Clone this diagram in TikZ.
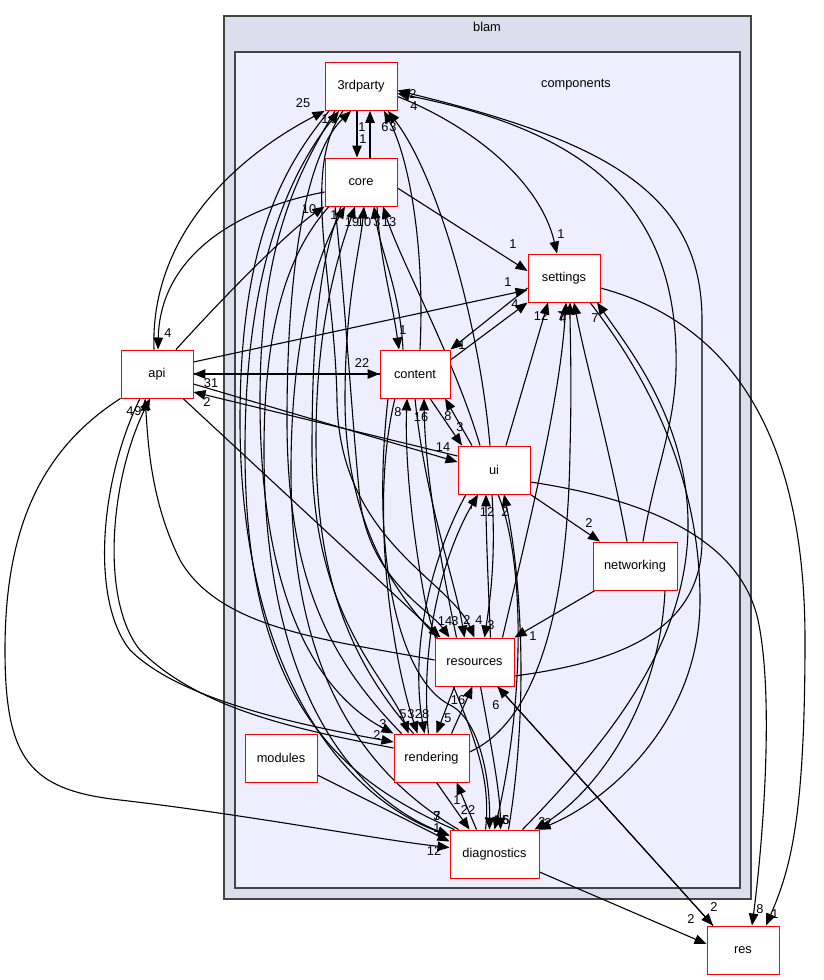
\documentclass[tikz,border=0pt]{standalone}
\usepackage{fontspec}
\setmainfont{Liberation Sans}
\usetikzlibrary{arrows.meta}
\definecolor{blamfill}{HTML}{DDDDEE}
\definecolor{compfill}{HTML}{EEEEFF}
\definecolor{clusterline}{HTML}{444444}
\pgfdeclarelayer{bglayer}
\pgfdeclarelayer{edgelayer}
\pgfsetlayers{bglayer,edgelayer,main}
\begin{document}
\begin{tikzpicture}[x=1pt,y=-1pt,
  dnode/.style={draw=red, fill=white, line width=0.95pt, minimum width=72pt, minimum height=48pt, inner sep=0pt, font=\fontsize{12.8}{15}\selectfont},
  dep/.style={draw=black, line width=1.1pt, -{Triangle[length=12pt,width=9.5pt]}},
  lab/.style={inner sep=0pt, font=\fontsize{12.8}{15}\selectfont},
  cluster/.style={draw=clusterline, line width=1.4pt}
]
\useasboundingbox (0,0) rectangle (824,980);
\begin{pgfonlayer}{bglayer}
\fill[white] (0,0) rectangle (824,980);
\draw[cluster, fill=blamfill] (224,16) rectangle (751,899);
\draw[cluster, fill=compfill] (235,52) rectangle (740,888);
\end{pgfonlayer}
\node[lab] (blamlbl) at (487,27) {blam};
\node[lab] (complbl) at (576,85) {components};

\node[dnode] (thirdparty) at (361,86.5) {3rdparty};
\node[dnode] (core) at (361,182) {core};
\node[dnode] (settings) at (564,278) {settings};
\node[dnode] (api) at (157,374) {api};
\node[dnode, minimum width=70pt] (content) at (415,374) {content};
\node[dnode] (ui) at (494,470) {ui};
\node[dnode, minimum width=84pt] (networking) at (635,566) {networking};
\node[dnode, minimum width=79pt] (resources) at (474.5,662) {resources};
\node[dnode] (modules) at (281,758) {modules};
\node[dnode, minimum width=75pt] (rendering) at (431.5,758) {rendering};
\node[dnode, minimum width=89pt] (diagnostics) at (494.5,854) {diagnostics};
\node[dnode] (res) at (743,950) {res};

\begin{pgfonlayer}{edgelayer}
\draw[dep] ([xshift=-3pt]api.north) .. controls (150,240) and (230,160) .. (thirdparty.south west);
\draw[dep] ([yshift=-10pt]core.west) .. controls (230,210) and (160,260) .. ([xshift=1pt]api.north);
\draw[dep] ([xshift=19pt]api.north) .. controls (230,290) and (290,230) .. (core.south west);
\draw[dep] ([xshift=-4pt]thirdparty.south) -- ([xshift=-4pt]core.north);
\draw[dep] ([xshift=9pt]core.north) -- ([xshift=9pt]thirdparty.south);
\draw[dep] ([yshift=-6pt]core.east) -- ([yshift=7pt]settings.west);
\draw[dep] ([yshift=-10pt]thirdparty.east) .. controls (470,125) and (540,180) .. ([xshift=-7pt]settings.north);
\draw[dep] ([xshift=8pt]networking.north) .. controls (655,470) and (674,430) .. (676,370) .. controls (680,200) and (580,130) .. ([yshift=-7pt]thirdparty.east);
\draw[dep] ([yshift=-14pt]resources.east) .. controls (620,662) and (702,630) .. (702,540) -- (702,320) .. controls (702,190) and (600,140) .. ([yshift=-4pt]thirdparty.east);
\draw[dep] ([xshift=5pt]content.north) .. controls (425,250) and (410,160) .. ([xshift=23pt]thirdparty.south);
\draw[dep] ([xshift=-4pt]ui.north) .. controls (480,330) and (440,180) .. ([xshift=27pt]thirdparty.south);
\draw[dep] ([xshift=-40pt]diagnostics.north) .. controls (340,780) and (245,700) .. (245,450) .. controls (245,250) and (300,160) .. ([xshift=-22pt]thirdparty.south);
\draw[dep] ([xshift=-30pt]rendering.north) .. controls (330,660) and (287,580) .. (287,420) .. controls (287,250) and (310,150) .. ([xshift=-10pt]thirdparty.south);
\draw[dep] ([xshift=-36pt]diagnostics.north) .. controls (340,760) and (291,640) .. (291,470) .. controls (291,330) and (320,250) .. ([xshift=-16pt]core.south);
\draw[dep] ([xshift=-18pt]rendering.north) .. controls (340,650) and (316,560) .. (316,440) .. controls (316,320) and (340,250) .. ([xshift=-6pt]core.south);
\draw[dep] ([xshift=-37pt]resources.north) .. controls (380,580) and (345,500) .. (345,400) .. controls (345,300) and (360,250) .. ([xshift=3pt]core.south);
\draw[dep] ([xshift=-12pt]content.north) .. controls (400,290) and (380,250) .. ([xshift=13pt]core.south);
\draw[dep] ([xshift=-14pt]ui.north) .. controls (455,360) and (400,260) .. ([xshift=22pt]core.south);
\draw[dep] ([xshift=16pt]core.south) .. controls (380,260) and (392,300) .. ([xshift=-16pt]content.north);
\draw[dep] ([yshift=12pt]api.east) -- ([yshift=-12pt]settings.west);
\draw[dep] (api.east) -- (content.west);
\draw[dep] (content.west) -- (api.east);
\draw[dep] ([yshift=-10pt]api.east) -- ([yshift=8pt]ui.west);
\draw[dep] ([yshift=14pt]ui.west) -- ([yshift=-18pt]api.east);
\draw[dep] ([xshift=26pt]api.south) -- ([xshift=-34pt]resources.north);
\draw[dep] (api.south west) .. controls (40,450) and (5,530) .. (5,650) .. controls (5,760) and (30,790) .. (120,800) .. controls (250,815) and (380,840) .. ([yshift=-18pt]diagnostics.north west);
\draw[dep] ([yshift=2pt]resources.west) .. controls (330,640) and (220,630) .. (180,560) .. controls (150,500) and (148,440) .. ([xshift=-12pt]api.south);
\draw[dep] ([yshift=10pt]rendering.west) .. controls (300,730) and (200,710) .. (140,650) .. controls (100,600) and (110,480) .. ([xshift=-7pt]api.south);
\draw[dep] ([xshift=-17pt]api.south) .. controls (100,480) and (90,600) .. (130,650) .. controls (180,700) and (300,725) .. ([yshift=16pt]rendering.west);
\draw[dep] ([xshift=-26pt]thirdparty.south) .. controls (300,170) and (260,240) .. (260,400) .. controls (260,620) and (330,700) .. (rendering.north west);
\draw[dep] ([xshift=-20pt]core.south) .. controls (320,260) and (312,330) .. (312,450) .. controls (312,620) and (390,680) .. ([xshift=-23pt]rendering.north);
\draw[dep] ([xshift=-20pt]content.south) .. controls (370,500) and (390,650) .. ([xshift=-14pt]rendering.north);
\draw[dep] ([xshift=-28pt]ui.south) .. controls (430,560) and (410,650) .. ([xshift=-7pt]rendering.north);
\draw[dep] ([xshift=-20pt]resources.south) -- ([xshift=5pt]rendering.north);
\draw[dep] ([xshift=20pt]rendering.north) -- ([xshift=-2pt]resources.south);
\draw[dep] ([xshift=5pt]rendering.south) -- ([xshift=-25pt]diagnostics.north);
\draw[dep] ([xshift=-18pt]diagnostics.north) -- ([xshift=25pt]rendering.south);
\draw[dep] ([yshift=-17pt]modules.east) -- ([yshift=-12pt]diagnostics.north west);
\draw[dep] ([xshift=-32pt]thirdparty.south) .. controls (290,160) and (240,230) .. (240,420) .. controls (240,680) and (350,800) .. ([yshift=-6pt]diagnostics.north west);
\draw[dep] ([xshift=-32pt]core.south) .. controls (290,250) and (264,320) .. (264,450) .. controls (264,700) and (360,800) .. ([yshift=-6pt]diagnostics.north west);
\draw[dep] ([xshift=-27pt]content.south) .. controls (370,560) and (400,680) .. (450,705) .. controls (480,720) and (490,780) .. ([xshift=-5pt]diagnostics.north);
\draw[dep] ([xshift=4pt]ui.south) .. controls (525,560) and (525,700) .. (diagnostics.north);
\draw[dep] ([xshift=6pt]resources.south) .. controls (490,740) and (500,790) .. ([xshift=6pt]diagnostics.north);
\draw[dep] ([xshift=26pt]settings.south) .. controls (650,380) and (700,480) .. (700,600) .. controls (700,720) and (610,800) .. ([xshift=44pt]diagnostics.north);
\draw[dep] ([xshift=30pt]networking.south) .. controls (660,700) and (600,790) .. ([xshift=40pt]diagnostics.north);
\draw[dep] ([xshift=28pt]diagnostics.north) .. controls (610,740) and (690,640) .. (688,520) .. controls (686,420) and (630,350) .. ([xshift=33pt]settings.south);
\draw[dep] ([yshift=14pt]content.east) -- (settings.south west);
\draw[dep] ([yshift=-10pt]settings.west) -- (content.north east);
\draw[dep] ([xshift=12pt]ui.north) -- ([xshift=-16pt]settings.south);
\draw[dep] ([xshift=28pt]resources.north) .. controls (530,520) and (560,400) .. ([xshift=2pt]settings.south);
\draw[dep] ([xshift=-8pt]networking.north) .. controls (610,450) and (585,360) .. ([xshift=10pt]settings.south);
\draw[dep] ([yshift=6pt]rendering.east) .. controls (540,720) and (568,600) .. (570,450) .. controls (572,380) and (570,330) .. ([xshift=6pt]settings.south);
\draw[dep] ([yshift=-10pt]settings.east) .. controls (720,320) and (805,420) .. (805,640) .. controls (805,820) and (790,870) .. ([xshift=23pt]res.north);
\draw[dep] ([yshift=-12pt]ui.east) .. controls (650,500) and (740,540) .. (758,620) .. controls (775,700) and (762,850) .. ([xshift=9pt]res.north);
\draw[dep] ([xshift=23pt]resources.south) -- ([xshift=-30pt]res.north);
\draw[dep] ([xshift=-30pt]res.north) -- ([xshift=23pt]resources.south);
\draw[dep] ([yshift=-18pt]diagnostics.east) -- ([yshift=6pt]res.west);
\draw[dep] ([xshift=15pt]content.south) -- ([xshift=-32pt]ui.north);
\draw[dep] ([xshift=-22pt]ui.north) -- ([xshift=30pt]content.south);
\draw[dep] ([xshift=-9pt]diagnostics.north) .. controls (495,750) and (445,690) .. (425,600) .. controls (410,520) and (405,450) .. ([xshift=-8pt]content.south);
\draw[dep] ([xshift=-18pt]resources.north) .. controls (440,560) and (425,470) .. ([xshift=9pt]content.south);
\draw[dep] (content.south) .. controls (425,500) and (455,580) .. ([xshift=-10pt]resources.north);
\draw[dep] (ui.south east) -- ([xshift=-35pt]networking.north);
\draw[dep] ([xshift=-40pt]networking.south) -- (resources.north east);
\draw[dep] ([xshift=16pt]resources.north) .. controls (488,580) and (486,530) .. ([xshift=-8pt]ui.south);
\draw[dep] ([xshift=-3pt]rendering.north) .. controls (420,650) and (440,560) .. ([xshift=-16pt]ui.south);
\draw[dep] ([xshift=14pt]diagnostics.north) .. controls (530,700) and (520,570) .. ([xshift=10pt]ui.south);
\draw[dep] ([xshift=-2pt]ui.south) .. controls (496,560) and (490,600) .. ([xshift=10pt]resources.north);
\draw[dep] ([xshift=-26pt]core.south) .. controls (345,300) and (352,420) .. (360,500) .. controls (370,580) and (430,610) .. ([xshift=-25pt]resources.north);
\draw[dep] ([xshift=-18pt]thirdparty.south) .. controls (300,170) and (335,280) .. (337,400) .. controls (339,540) and (450,580) .. (resources.north);
\end{pgfonlayer}

\node[lab] (l1) at (303,103) {25};
\node[lab] (l2) at (168,333) {4};
\node[lab] (l3) at (309,209) {10};
\node[lab] (l4) at (363,139) {1};
\node[lab] (l5) at (362,127) {1};
\node[lab] (l6) at (513,244) {1};
\node[lab] (l7) at (561,234) {1};
\node[lab] (l8) at (414,106) {4};
\node[lab] (l9) at (413,94) {2};
\node[lab] (l10) at (393,127) {3};
\node[lab] (l11) at (385,127) {6};
\node[lab] (l12) at (325,119) {1};
\node[lab] (l13) at (334,119) {9};
\node[lab] (l14) at (334,215) {1};
\node[lab] (l15) at (352,222) {19};
\node[lab] (l16) at (364,222) {10};
\node[lab] (l17) at (377,222) {3};
\node[lab] (l18) at (389,222) {13};
\node[lab] (l19) at (403,330) {1};
\node[lab] (l20) at (508,282) {1};
\node[lab] (l21) at (362,363) {22};
\node[lab] (l22) at (211,383) {31};
\node[lab] (l23) at (443,447) {14};
\node[lab] (l24) at (207,402) {2};
\node[lab] (l25) at (445,621) {14};
\node[lab] (l26) at (434,851) {12};
\node[lab] (l27) at (130,411) {4};
\node[lab] (l28) at (138,411) {9};
\node[lab] (l29) at (377,735) {2};
\node[lab] (l30) at (383,724) {3};
\node[lab] (l31) at (403,714) {5};
\node[lab] (l32) at (411,714) {3};
\node[lab] (l33) at (422,714) {28};
\node[lab] (l34) at (448,718) {5};
\node[lab] (l35) at (458,700) {16};
\node[lab] (l36) at (468,810) {22};
\node[lab] (l37) at (457,800) {1};
\node[lab] (l38) at (437,828) {1};
\node[lab] (l39) at (437,816) {7};
\node[lab] (l40) at (437,816) {3};
\node[lab] (l41) at (495,820) {4};
\node[lab] (l42) at (502,820) {15};
\node[lab] (l43) at (506,820) {6};
\node[lab] (l44) at (548,823) {2};
\node[lab] (l45) at (542,822) {3};
\node[lab] (l46) at (595,318) {7};
\node[lab] (l47) at (515,304) {4};
\node[lab] (l48) at (462,345) {1};
\node[lab] (l49) at (541,316) {12};
\node[lab] (l50) at (561,316) {7};
\node[lab] (l51) at (563,318) {4};
\node[lab] (l52) at (562,317) {7};
\node[lab] (l53) at (775,914) {1};
\node[lab] (l54) at (760,909) {8};
\node[lab] (l55) at (714,907) {2};
\node[lab] (l56) at (496,705) {6};
\node[lab] (l57) at (691,919) {2};
\node[lab] (l58) at (460,427) {3};
\node[lab] (l59) at (448,416) {8};
\node[lab] (l60) at (398,412) {8};
\node[lab] (l61) at (421,417) {16};
\node[lab] (l62) at (467,620) {2};
\node[lab] (l63) at (589,523) {2};
\node[lab] (l64) at (533,636) {1};
\node[lab] (l65) at (487,512) {12};
\node[lab] (l66) at (472,505) {7};
\node[lab] (l67) at (505,512) {2};
\node[lab] (l68) at (491,625) {3};
\node[lab] (l69) at (455,621) {3};
\node[lab] (l70) at (479,620) {4};
\end{tikzpicture}
\end{document}
